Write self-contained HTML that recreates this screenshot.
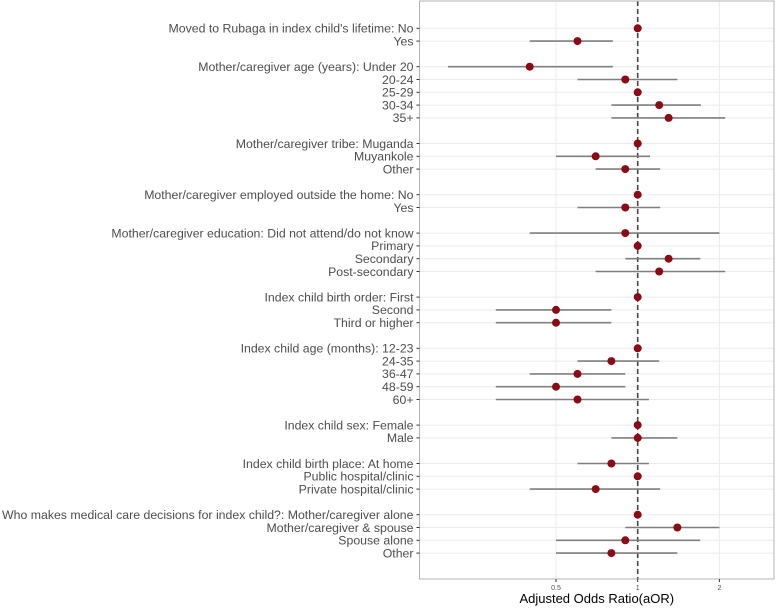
<!DOCTYPE html>
<html><head><meta charset="utf-8"><style>
html,body{margin:0;padding:0;background:#fff;}
svg{display:block;font-family:"Liberation Sans",Arial,sans-serif;}
</style></head><body>
<svg id="chart" width="777" height="608"></svg>
<script>
const labels=["Moved to Rubaga in index child's lifetime: No","Yes",null,
"Mother/caregiver age (years): Under 20","20-24","25-29","30-34","35+",null,
"Mother/caregiver tribe: Muganda","Muyankole","Other",null,
"Mother/caregiver employed outside the home: No","Yes",null,
"Mother/caregiver education: Did not attend/do not know","Primary","Secondary","Post-secondary",null,
"Index child birth order: First","Second","Third or higher",null,
"Index child age (months): 12-23","24-35","36-47","48-59","60+",null,
"Index child sex: Female","Male",null,
"Index child birth place: At home","Public hospital/clinic","Private hospital/clinic",null,
"Who makes medical care decisions for index child?: Mother/caregiver alone","Mother/caregiver & spouse","Spouse alone","Other"];
const est=[1,0.6,null,0.4,0.9,1,1.2,1.3,null,1,0.7,0.9,null,1,0.9,null,0.9,1,1.3,1.2,null,1,0.5,0.5,null,1,0.8,0.6,0.5,0.6,null,1,1,null,0.8,1,0.7,null,1,1.4,0.9,0.8];
const lower=[null,0.4,null,0.2,0.6,null,0.8,0.8,null,null,0.5,0.7,null,null,0.6,null,0.4,null,0.9,0.7,null,null,0.3,0.3,null,null,0.6,0.4,0.3,0.3,null,null,0.8,null,0.6,null,0.4,null,null,0.9,0.5,0.5];
const upper=[null,0.81,null,0.81,1.4,null,1.71,2.1,null,null,1.11,1.21,null,null,1.21,null,2.0,null,1.7,2.1,null,null,0.8,0.8,null,null,1.2,0.9,0.9,1.1,null,null,1.4,null,1.1,null,1.21,null,null,2.0,1.7,1.4];
const xTicks=[0.5,1,2];
const xTickLabels=["0.5","1","2"];

const NS="http://www.w3.org/2000/svg";
const svg=document.getElementById('chart');
const L=419.5,R=774,T=1,B=579;
const xs=v=>637.7+81.7*Math.log2(v);
const ys=i=>28.3+i*12.8;
function mk(tag,attrs,parent){const e=document.createElementNS(NS,tag);for(const k in attrs)e.setAttribute(k,attrs[k]);(parent||svg).appendChild(e);return e;}

const grid=mk('g',{});


xTicks.forEach(t=>{mk('line',{x1:xs(t),x2:xs(t),y1:T,y2:B,stroke:'#ebebeb','stroke-width':1},grid);});
labels.forEach((l,i)=>{if(l===null)return;mk('line',{x1:L,x2:R,y1:ys(i),y2:ys(i),stroke:'#ebebeb','stroke-width':1},grid);});

const ref=mk('line',{x1:xs(1),x2:xs(1),y1:T,y2:B,stroke:'#444','stroke-width':1.6,'stroke-dasharray':'5,3'});



const panel=mk('rect',{x:L,y:T,width:R-L,height:B-T,fill:'none',stroke:'#b3b3b3','stroke-width':1});



labels.forEach((l,i)=>{
  if(l===null)return;
  const y=ys(i);
  mk('line',{x1:L-3,x2:L,y1:y,y2:y,stroke:'#333','stroke-width':1});
  const t=mk('text',{x:L-6,y:y+4.3,'text-anchor':'end','font-size':12.3,fill:'#4d4d4d'});
  t.textContent=l;
  
  
  if(lower[i]!==null){
    const c=mk('line',{x1:xs(lower[i]),x2:xs(upper[i]),y1:y,y2:y,stroke:'#7f7f7f','stroke-width':1.6});
    
    
  }
  const d=mk('circle',{cx:xs(est[i]),cy:y,r:4,fill:'#8b0a14'});
  
  
});

xTicks.forEach((t,k)=>{
  mk('line',{x1:xs(t),x2:xs(t),y1:B,y2:B+3,stroke:'#333','stroke-width':1});
  const tx=mk('text',{x:xs(t),y:B+11,'text-anchor':'middle','font-size':7,fill:'#4d4d4d'});
  tx.textContent=xTickLabels[k];
  
  
});
const title=mk('text',{x:(L+R)/2,y:603,'text-anchor':'middle','font-size':13,fill:'#000'});
title.textContent='Adjusted Odds Ratio(aOR)';


</script>
</body></html>
